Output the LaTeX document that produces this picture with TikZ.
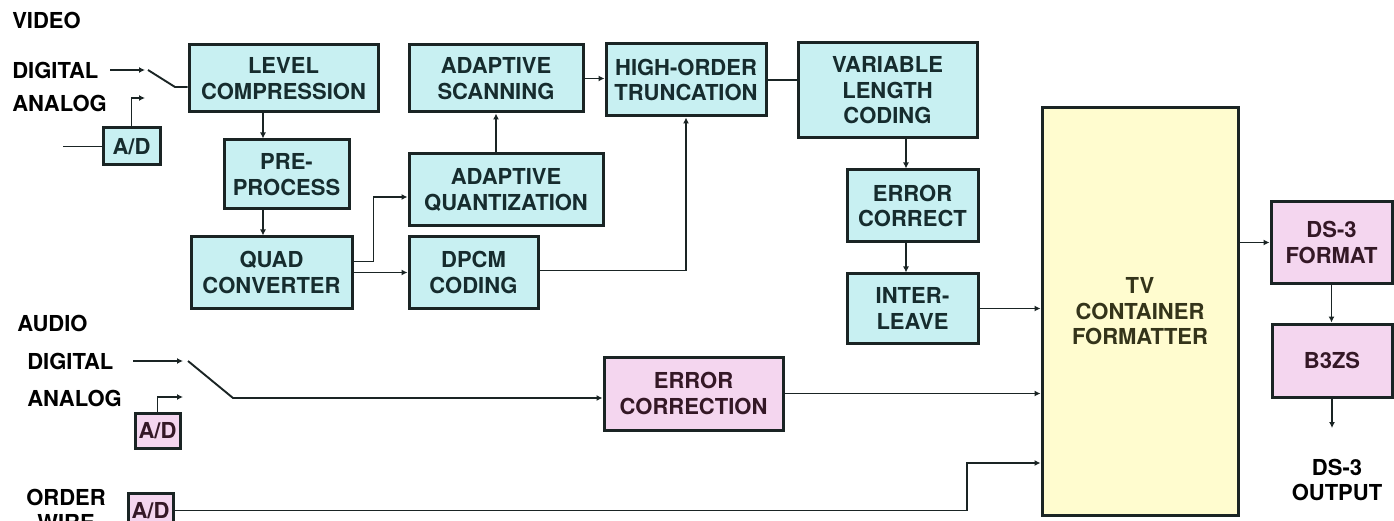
\documentclass[tikz,border=0pt]{standalone}
\usepackage{fontspec}
\setmainfont{TeX Gyre Heros}
\usepackage{tikz}
\usetikzlibrary{arrows.meta}
\definecolor{boxline}{HTML}{1A2424}
\definecolor{vidfill}{HTML}{C8F0F2}
\definecolor{vidtext}{HTML}{162C2E}
\definecolor{audfill}{HTML}{F4D6EF}
\definecolor{audtext}{HTML}{341826}
\definecolor{tvfill}{HTML}{FFFCCF}
\definecolor{tvtext}{HTML}{34341A}

\begin{document}
\begin{tikzpicture}[x=1pt, y=-1pt, line width=1.9pt, draw=boxline,
    >={Latex[length=6pt,width=6pt]},
    font=\fontsize{22}{25.5}\selectfont\bfseries,
    blk/.style={draw=boxline, line width=3pt, align=center, inner sep=0pt},
    vid/.style={blk, fill=vidfill, text=vidtext},
    aud/.style={blk, fill=audfill, text=audtext},
    lbl/.style={anchor=west, text=black}]
                \useasboundingbox (0,0) rectangle (1394,521);
                % video chain
                \node[vid, minimum width=57, minimum height=37] (vad) at (131.5,146.5) {A/D};
                \node[vid, minimum width=189, minimum height=67] (lc) at (283.5,78.5) {LEVEL\\COMPRESSION};
                \node[vid, minimum width=125, minimum height=69] (pre) at (286.5,174.5) {PRE-\\PROCESS};
                \node[vid, minimum width=161, minimum height=71] (quad) at (271.5,272.5) {QUAD\\CONVERTER};
                \node[vid, minimum width=174, minimum height=67] (ascan) at (496,78.5) {ADAPTIVE\\SCANNING};
                \node[vid, minimum width=194, minimum height=72] (aq) at (506,190) {ADAPTIVE\\QUANTIZATION};
                \node[vid, minimum width=129, minimum height=71] (dpcm) at (473.5,272.5) {DPCM\\CODING};
                \node[vid, minimum width=160, minimum height=72] (hot) at (686,80) {HIGH-ORDER\\TRUNCATION};
                \node[vid, minimum width=179, minimum height=95] (vlc) at (887.5,90.5) {VARIABLE\\LENGTH\\CODING};
                \node[vid, minimum width=131, minimum height=72] (ec) at (912.5,206) {ERROR\\CORRECT};
                \node[vid, minimum width=131, minimum height=69] (il) at (912.5,308.5) {INTER-\\LEAVE};
                % audio and order wire
                \node[aud, minimum width=45, minimum height=35] (aad) at (157.5,430.5) {A/D};
                \node[aud, minimum width=45, minimum height=35] (owad) at (150.5,510.5) {A/D};
                \node[aud, minimum width=179, minimum height=73] (aec) at (693.5,393.5) {ERROR\\CORRECTION};
                % output side
                \node[blk, fill=tvfill, text=tvtext, minimum width=196, minimum height=407] (tv) at (1140,311.5) {TV\\CONTAINER\\FORMATTER};
                \node[aud, minimum width=121, minimum height=81] (ds) at (1331.5,242.5) {DS-3\\FORMAT};
                \node[aud, minimum width=120, minimum height=73] (bz) at (1332,360.5) {B3ZS};
                % labels
                \node[lbl] (video) at (8,20) {VIDEO};
                \node[lbl] (vdigl) at (8,70) {DIGITAL};
                \node[lbl] (vanal) at (8,103) {ANALOG};
                \node[lbl] (audio) at (13,323) {AUDIO};
                \node[lbl] (adigl) at (23,361) {DIGITAL};
                \node[lbl] (aanal) at (23,398) {ANALOG};
                \node[align=center] (owire) at (66,510) {ORDER\\WIRE};
                \node[align=center] (dsout) at (1337,480) {DS-3\\OUTPUT};
                % free ends and bends
                \coordinate (vin) at (63,146.5);
                \coordinate (vdig0) at (110,70);
                \coordinate (vdig) at (145,70);
                \coordinate (vana) at (145,98);
                \coordinate (vsw) at (175,87);
                \coordinate (adig0) at (133,361);
                \coordinate (adig) at (183,361);
                \coordinate (aana) at (183,397);
                \coordinate (asw) at (233,398);
                \coordinate (c1) at (263,0);
                \coordinate (c2) at (906,0);
                \coordinate (c3) at (967,463);
                \coordinate (out) at (1332,428);
                % video connectors
                \draw (vin) -- (vad.west);
                \draw[->] (vdig0) -- (vdig);
                \draw[->] (vad.north) |- (vana);
                \draw ([xshift=3pt]vdig) -- (vsw) -- (vsw -| lc.west);
                \draw[->] (lc.south -| c1) -- (pre.north -| c1);
                \draw[->] (pre.south -| c1) -- (quad.north -| c1);
                \draw[->] ([yshift=11pt]quad.east) -- ++(20,0) |- ([yshift=-7pt]aq.west);
                \draw[->] (quad.east) -- (dpcm.west);
                \draw[->] (aq.north -| ascan.south) -- (ascan.south);
                \draw[->] (ascan.east) -- (ascan.east -| hot.west);
                \draw[->] ([yshift=2pt]dpcm.east) -| (hot.south);
                \draw (hot.east) -- (hot.east -| vlc.west);
                \draw[->] (vlc.south -| c2) -- (ec.north -| c2);
                \draw[->] (ec.south -| c2) -- (il.north -| c2);
                \draw[->] (il.east) -- (il.east -| tv.west);
                % audio connectors
                \draw[->] (adig0) -- (adig);
                \draw[->] (aad.north) |- (aana);
                \draw[->] ([xshift=5pt]adig) -- (asw) -- (asw -| aec.west);
                \draw[->] (aec.east) -- (aec.east -| tv.west);
                \draw[->] (owad.east) -| (c3) -- (c3 -| tv.west);
                % output connectors
                \draw[->] (tv.east |- ds.west) -- (ds.west);
                \draw[->] (ds.south) -- (ds.south |- bz.north);
                \draw[->] (bz.south) -- (out);
            \end{tikzpicture}
\end{document}
